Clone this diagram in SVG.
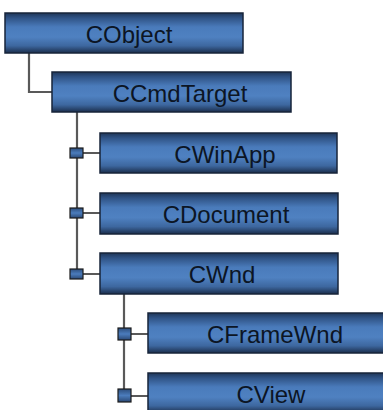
<svg xmlns="http://www.w3.org/2000/svg" width="383" height="410" viewBox="0 0 383 410">
<defs>
<linearGradient id="bg" x1="0" y1="0" x2="0" y2="1">
<stop offset="0" stop-color="#1f3658"/>
<stop offset="0.12" stop-color="#2f5284"/>
<stop offset="0.35" stop-color="#4a7bbb"/>
<stop offset="0.6" stop-color="#4f81c1"/>
<stop offset="0.82" stop-color="#3d679f"/>
<stop offset="1" stop-color="#1b2e4c"/>
</linearGradient>
<linearGradient id="sq" x1="0" y1="0" x2="0" y2="1">
<stop offset="0" stop-color="#2c4d7c"/>
<stop offset="0.5" stop-color="#4b7cbc"/>
<stop offset="1" stop-color="#2a4874"/>
</linearGradient>
</defs>
<style>
.box{fill:url(#bg);stroke:#17243a;stroke-width:1.5}
.lbl{font-family:"Liberation Sans",Arial,sans-serif;font-size:24px;fill:#0c1524;text-anchor:middle}
.ln{fill:none;stroke:#595959;stroke-width:2.2}
.jn{fill:url(#sq);stroke:#1c1c1c;stroke-width:1.2}
</style>
<g id="connectors">
<path class="ln" d="M29 53 V92 H52"/>
<path class="ln" d="M77 112 V274"/>
<path class="ln" d="M83 153 H100 M83 213 H100 M83 274 H100"/>
<path class="ln" d="M124 294 V395"/>
<path class="ln" d="M131 334 H148 M131 396 H148"/>
<rect class="jn" x="70" y="148" width="13" height="10"/>
<rect class="jn" x="70" y="208" width="13" height="10"/>
<rect class="jn" x="70" y="269" width="13" height="10"/>
<rect class="jn" x="118" y="328" width="13" height="12"/>
<rect class="jn" x="118" y="389" width="13" height="13"/>
</g>
<g id="CObject"><rect class="box" x="5" y="13" width="238" height="40"/><text class="lbl" x="129" y="43">CObject</text></g>
<g id="CCmdTarget"><rect class="box" x="52" y="72" width="239" height="40"/><text class="lbl" x="180" y="102">CCmdTarget</text></g>
<g id="CWinApp"><rect class="box" x="100" y="133" width="237" height="40"/><text class="lbl" x="225" y="163">CWinApp</text></g>
<g id="CDocument"><rect class="box" x="100" y="193" width="238" height="41"/><text class="lbl" x="226" y="223">CDocument</text></g>
<g id="CWnd"><rect class="box" x="100" y="253" width="238" height="41"/><text class="lbl" x="222" y="283">CWnd</text></g>
<g id="CFrameWnd"><rect class="box" x="148" y="313" width="236" height="40"/><text class="lbl" x="275" y="343">CFrameWnd</text></g>
<g id="CView"><rect class="box" x="148" y="373" width="236" height="40"/><text class="lbl" x="271" y="403">CView</text></g>
</svg>
